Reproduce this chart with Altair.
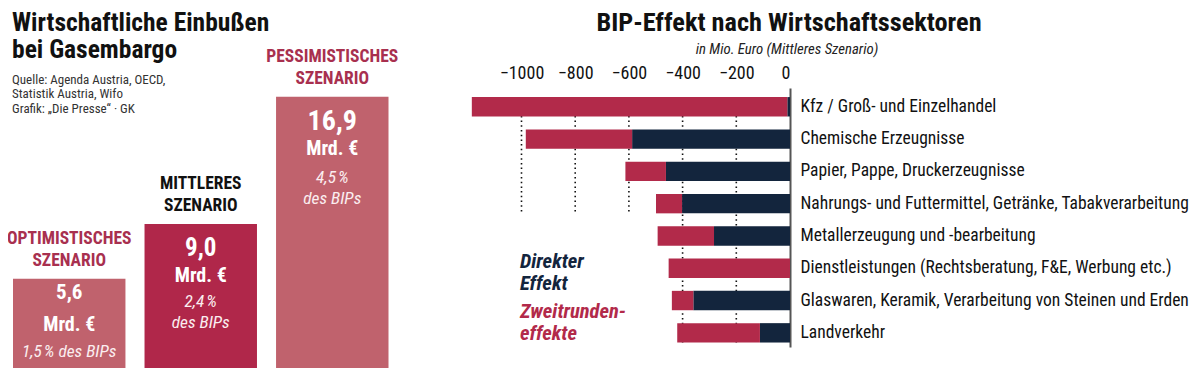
import altair as alt
import pandas as pd

FONT = "Roboto Condensed"
NAVY = "#13253d"
RED = "#b22a4a"
LIGHT = "#c0626d"
DARK = "#b0274a"
HEAD_RED = "#a8304f"
SOFT_WHITE = "#fbeef0"

# ---------------- data: left panel (scenarios) ----------------
scen_key = ["opt", "mid", "pess"]
scen_line1 = ["OPTIMISTISCHES", "MITTLERES", "PESSIMISTISCHES"]
scen_line2 = ["SZENARIO", "SZENARIO", "SZENARIO"]
loss_bn = [5.6, 9.0, 16.9]
loss_text = ["5,6", "9,0", "16,9"]
unit_text = ["Mrd. €", "Mrd. €", "Mrd. €"]
share_line1 = ["1,5\u202f% des BIPs", "2,4\u202f%", "4,5\u202f%"]
share_line2 = ["", "des BIPs", "des BIPs"]

# ---------------- data: right panel (sectors) ----------------
sectors = [
    "Kfz / Groß- und Einzelhandel",
    "Chemische Erzeugnisse",
    "Papier, Pappe, Druckerzeugnisse",
    "Nahrungs- und Futtermittel, Getränke, Tabakverarbeitung",
    "Metallerzeugung und -bearbeitung",
    "Dienstleistungen (Rechtsberatung, F&E, Werbung etc.)",
    "Glaswaren, Keramik, Verarbeitung von Steinen und Erden",
    "Landverkehr",
]
direct_effect = [-10, -588, -462, -402, -283, 0, -360, -112]
second_round = [-1175, -396, -151, -97, -210, -452, -80, -308]
series = ["Direkter Effekt", "Zweitrundeneffekte"]
series_lines = [["Direkter", "Effekt"], ["Zweitrunden-", "effekte"]]
tick_values = [-1000, -800, -600, -400, -200, 0]
grid_values = [-1000, -800, -600, -400, -200]
grid_until = [sectors[3], sectors[3], sectors[3], sectors[7], sectors[7]]

title_left = ["Wirtschaftliche Einbußen", "bei Gasembargo"]
source_lines = ["Quelle: Agenda Austria, OECD,", "Statistik Austria, Wifo", "Grafik: „Die Presse“ · GK"]
title_right = "BIP-Effekt nach Wirtschaftssektoren"
subtitle_right = "in Mio. Euro (Mittleres Szenario)"

# ---------------- left panel ----------------
df_s = pd.DataFrame({
    "key": scen_key, "l1": scen_line1, "l2": scen_line2, "loss": loss_bn,
    "num": loss_text, "unit": unit_text, "s1": share_line1, "s2": share_line2,
})

xs = alt.X("key:N", sort=scen_key,
           scale=alt.Scale(domain=scen_key, range=[5, 380.5], paddingInner=0.145, paddingOuter=0),
           axis=None)
ys = alt.Y("loss:Q", scale=alt.Scale(domain=[0, 22.4], nice=False), axis=None)

base_s = alt.Chart(df_s)
is_mid = alt.datum.key == "mid"

left_layers = [
    base_s.mark_bar().encode(
        x=xs, y=ys,
        color=alt.condition(is_mid, alt.value(DARK), alt.value(LIGHT)),
    ),
    base_s.mark_text(font=FONT, fontWeight="bold", fontSize=17.5, dy=-40, baseline="middle").encode(
        x=xs, y=ys, text="l1:N",
        color=alt.condition(is_mid, alt.value("#111111"), alt.value(HEAD_RED)),
    ),
    base_s.mark_text(font=FONT, fontWeight="bold", fontSize=17.5, dy=-17.5, baseline="middle").encode(
        x=xs, y=ys, text="l2:N",
        color=alt.condition(is_mid, alt.value("#111111"), alt.value(HEAD_RED)),
    ),
]

inner_style = {
    "opt": dict(num_size=21, num_dy=14.5, unit_dy=46, s1_dy=73, s2_dy=None),
    "mid": dict(num_size=25, num_dy=24, unit_dy=52, s1_dy=78, s2_dy=99),
    "pess": dict(num_size=28, num_dy=25, unit_dy=52, s1_dy=81, s2_dy=102),
}
for k, st in inner_style.items():
    b = base_s.transform_filter(alt.datum.key == k)
    left_layers.append(
        b.mark_text(font=FONT, fontWeight="bold", fontSize=st["num_size"], dy=st["num_dy"],
                    baseline="middle", color="white").encode(x=xs, y=ys, text="num:N"))
    left_layers.append(
        b.mark_text(font=FONT, fontWeight="bold", fontSize=20, dy=st["unit_dy"],
                    baseline="middle", color="white").encode(x=xs, y=ys, text="unit:N"))
    left_layers.append(
        b.mark_text(font=FONT, fontStyle="italic", fontSize=17.3, dy=st["s1_dy"],
                    baseline="middle", color=SOFT_WHITE).encode(x=xs, y=ys, text="s1:N"))
    if st["s2_dy"] is not None:
        left_layers.append(
            b.mark_text(font=FONT, fontStyle="italic", fontSize=17.3, dy=st["s2_dy"],
                        baseline="middle", color=SOFT_WHITE).encode(x=xs, y=ys, text="s2:N"))

# titles of left panel
left_layers.append(
    alt.Chart(pd.DataFrame({"t": [title_left]})).mark_text(
        font=FONT, fontWeight="bold", fontSize=25.5, align="left", baseline="middle",
        lineHeight=27, color="#111111",
    ).encode(x=alt.value(4), y=alt.value(15), text="t"))
left_layers.append(
    alt.Chart(pd.DataFrame({"t": [source_lines]})).mark_text(
        font=FONT, fontSize=13, align="left", baseline="middle", lineHeight=14.3, color="#333333",
    ).encode(x=alt.value(4), y=alt.value(72), text="t"))

left = alt.layer(*left_layers)

# ---------------- right panel ----------------
rows = []
for i, s in enumerate(sectors):
    rows.append({"sector": s, "series": series[0], "value": direct_effect[i], "ord": 0})
    rows.append({"sector": s, "series": series[1], "value": second_round[i], "ord": 1})
df_r = pd.DataFrame(rows)

x_axis = alt.Axis(orient="top", offset=-80, values=tick_values, format="d", title=None,
                  domain=False, ticks=False, grid=False, labelPadding=6,
                  labelFont=FONT, labelFontSize=18, labelColor="#111111")
x_scale = alt.Scale(domain=[-1200, 0], range=[459.8, 782], nice=False, zero=False)
y_axis = alt.Axis(orient="right", offset=-402, title=None, ticks=False, domain=True,
                  domainColor="#555555", domainWidth=2, labelPadding=10, labelLimit=0,
                  labelFont=FONT, labelFontSize=17.5, labelColor="#111111")
y_scale = alt.Scale(domain=sectors, range=[80, 339], paddingInner=0.4, paddingOuter=0.21, align=0.67)

df_g = pd.DataFrame({"gx": grid_values, "gfrom": [sectors[0]] * len(grid_values), "gto": grid_until})

grid = alt.Chart(df_g).mark_rule(color="#111111", strokeWidth=1.6, strokeDash=[1.5, 3.2]).encode(
    x=alt.X("gx:Q", scale=x_scale, axis=x_axis),
    y=alt.Y("gfrom:N", sort=sectors, scale=y_scale, axis=y_axis, bandPosition=0),
    y2=alt.Y2("gto:N", bandPosition=1),
)

bars = alt.Chart(df_r).mark_bar().encode(
    x=alt.X("value:Q", stack=True, scale=x_scale, axis=x_axis),
    y=alt.Y("sector:N", sort=sectors, scale=y_scale, axis=y_axis),
    color=alt.Color("series:N", scale=alt.Scale(domain=series, range=[NAVY, RED]), legend=None),
    order=alt.Order("ord:Q"),
)

legend_colors = [NAVY, RED]
legend_y = [[254, 276], [304, 326]]
right_layers = [grid, bars]
for j in range(2):
    for li in range(2):
        right_layers.append(
            alt.Chart(pd.DataFrame({"t": [series_lines[j][li]]})).mark_text(
                font=FONT, fontWeight="bold", fontStyle="italic", fontSize=20.5,
                align="left", baseline="middle", color=legend_colors[j],
            ).encode(x=alt.value(512), y=alt.value(legend_y[j][li]), text="t"))

right_layers.append(
    alt.Chart(pd.DataFrame({"t": [title_right]})).mark_text(
        font=FONT, fontWeight="bold", fontSize=26.3, align="center", baseline="middle", color="#111111",
    ).encode(x=alt.value(781), y=alt.value(15), text="t"))
right_layers.append(
    alt.Chart(pd.DataFrame({"t": [subtitle_right]})).mark_text(
        font=FONT, fontStyle="italic", fontSize=14.8, align="center", baseline="middle", color="#222222",
    ).encode(x=alt.value(779), y=alt.value(42), text="t"))

right = alt.layer(*right_layers)

chart = alt.layer(left, right).resolve_scale(
    x="independent", y="independent", color="independent"
).properties(
    width=1184, height=361, padding=0, autosize=alt.AutoSizeParams(type="none")
).configure_view(stroke=None)

chart.save("out.html", embed_options={"renderer": "svg", "actions": False})
